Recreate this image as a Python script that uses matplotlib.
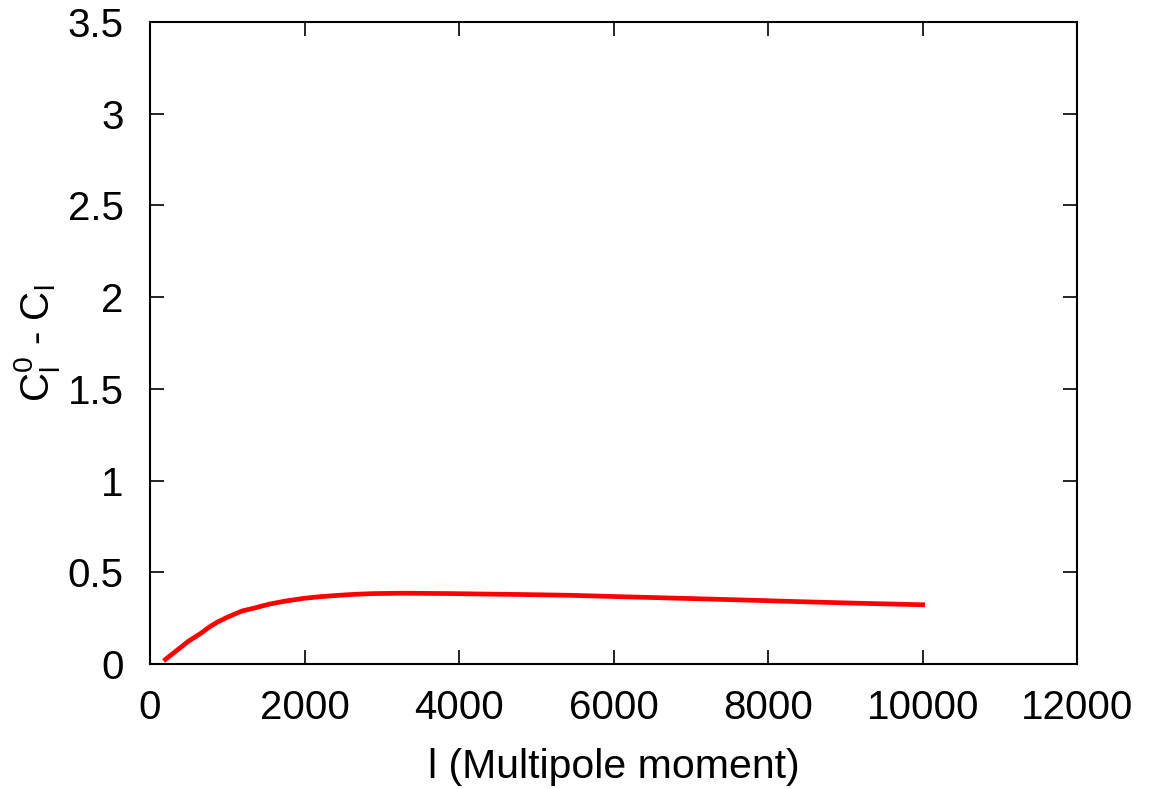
import numpy as np
import matplotlib as mpl
import matplotlib.pyplot as plt

mpl.rcParams['font.family'] = ['Liberation Sans', 'DejaVu Sans']
mpl.rcParams['mathtext.default'] = 'regular'

# values
multipole = [200, 350, 500, 650, 780, 870, 1000, 1190, 1350, 1550, 1750, 1990,
             2200, 2420, 2650, 2890, 3280, 3900, 4230, 4800, 5400, 6100,
             6900, 7600, 8400, 9200, 10000]
delta_cl = [0.025, 0.075, 0.125, 0.165, 0.205, 0.228, 0.255, 0.289, 0.305, 0.327,
            0.343, 0.358, 0.367, 0.374, 0.380, 0.384, 0.386, 0.384, 0.382, 0.379,
            0.375, 0.367, 0.358, 0.350, 0.340, 0.331, 0.323]

xticks = [0, 2000, 4000, 6000, 8000, 10000, 12000]
yticks = [0, 0.5, 1, 1.5, 2, 2.5, 3, 3.5]

fig = plt.figure(figsize=(11.59, 7.89), dpi=100)
ax = fig.add_axes([0.1294, 0.1584, 0.8, 0.8137])

ax.plot(multipole, delta_cl, color='red', lw=3.4, solid_joinstyle='round')

ax.set_xlim(0, 12000)
ax.set_ylim(0, 3.5)
ax.set_xticks(xticks)
ax.set_yticks(yticks)
ax.set_yticklabels(['0', '0.5', '1', '1.5', '2', '2.5', '3', '3.5'])

ax.tick_params(direction='in', length=10, width=1.2, labelsize=29, pad=18,
               top=True, right=True)
ax.tick_params(axis='y', pad=19)
for s in ax.spines.values():
    s.set_linewidth(1.5)

ax.set_xlabel('l (Multipole moment)', fontsize=29.5, labelpad=15)
ax.set_ylabel('$C_l^0$ - $C_l$', fontsize=29, labelpad=4)

fig.savefig('out.png', dpi=100)
